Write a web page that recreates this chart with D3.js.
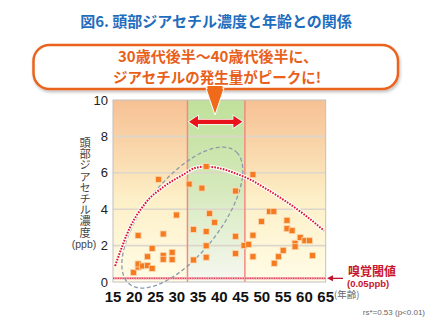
<!DOCTYPE html>
<html><head><meta charset="utf-8">
<script src="https://cdn.jsdelivr.net/npm/d3@7/dist/d3.min.js"></script>
<style>
html,body{margin:0;padding:0;background:#fff;}
svg{display:block;}
</style></head>
<body>
<svg id="chart" width="432" height="324"></svg>
<script>
// ---- Data ----
const ages = [19.8,20.9,20.9,20.9,21.9,23.1,23.1,24.2,24.2,25.7,26.8,26.8,26.8,28.9,28.9,29.9,
  32.9,33.9,33.9,35.9,36.9,36.9,36.9,36.9,37.7,38.9,43.8,43.8,43.8,45.8,46.9,
  47.9,47.9,47.9,49.9,51.8,52.8,52.9,53.9,55.0,55.9,55.9,57.1,57.8,57.8,59.0,60.1,61.2,61.9];
const values = [0.53,0.82,0.99,2.56,0.88,0.90,1.39,0.75,1.85,5.64,1.45,1.25,2.64,1.23,1.63,3.68,
  5.38,2.89,1.21,5.16,6.34,2.77,1.99,1.36,3.77,3.28,5.0,2.51,1.56,2.01,2.07,
  5.9,2.57,1.39,3.33,3.88,3.88,1.03,1.39,1.74,3.39,2.93,2.82,2.13,1.94,2.45,2.27,2.27,1.45];
// trend curve
const trendAges = [15.5,19,22.5,27,31.5,34.5,36.7,40,44,47.5,51,55.5,60,64.6];
const trendValues = [0.88,3.0,4.3,5.25,5.9,6.28,6.34,6.25,5.95,5.6,5.12,4.45,3.7,2.82];
const xTicks = [15,20,25,30,35,40,45,50,55,60,65];
const yTicks = [0,2,4,6,8,10];
const peakBand = [32.5,46];        // age range highlighted
const thresholdValue = 0.2;        // odour threshold line (drawn just above 0)
const arrowValue = 8.8;            // double arrow height
const ellipseCenter = [31.3,3.54]; // age, value

const svg = d3.select("#chart");
const M = {left:113, right:325.7, top:100, bottom:282};
const x = d3.scaleLinear().domain([15,65]).range([M.left,M.right]);
const y = d3.scaleLinear().domain([0,10]).range([M.bottom,M.top]);

const defs = svg.append("defs");
const g1 = defs.append("linearGradient").attr("id","bgGrad").attr("x1",0).attr("y1",0).attr("x2",0).attr("y2",1);
[[0,"#f6c194"],[0.3,"#fad9ae"],[0.55,"#fdf0c8"],[1,"#fffce6"]].forEach(s=>g1.append("stop").attr("offset",s[0]).attr("stop-color",s[1]));
const g2 = defs.append("linearGradient").attr("id","greenGrad").attr("x1",0).attr("y1",0).attr("x2",0).attr("y2",1);
[[0,"#bfe19a"],[0.45,"#d3e8b8"],[1,"#f6f8f1"]].forEach(s=>g2.append("stop").attr("offset",s[0]).attr("stop-color",s[1]));
const sh = defs.append("filter").attr("id","shadow").attr("x","-10%").attr("y","-20%").attr("width","120%").attr("height","150%");
sh.append("feDropShadow").attr("dx",1).attr("dy",2).attr("stdDeviation",1.5).attr("flood-color","#000").attr("flood-opacity",0.25);

// Title
svg.append("text").attr("x",216).attr("y",27).attr("text-anchor","middle")
  .attr("font-family","'Noto Sans CJK JP',sans-serif").attr("font-weight","bold").attr("font-size",15)
  .attr("fill","#1f6dbd").text("図6. 頭部ジアセチル濃度と年齢との関係");

// Plot background
svg.append("rect").attr("x",M.left).attr("y",M.top).attr("width",M.right-M.left).attr("height",M.bottom-M.top)
  .attr("fill","url(#bgGrad)");
svg.append("rect").attr("x",x(peakBand[0])).attr("y",M.top).attr("width",x(peakBand[1])-x(peakBand[0])).attr("height",M.bottom-M.top)
  .attr("fill","url(#greenGrad)");

// grid lines
svg.append("g").selectAll("line").data(yTicks.filter(d=>d>0&&d<10)).join("line")
  .attr("x1",M.left).attr("x2",M.right).attr("y1",d=>y(d)).attr("y2",d=>y(d))
  .attr("stroke","#ddd6cc").attr("stroke-width",1.6);

// band borders
svg.append("g").selectAll("line").data(peakBand).join("line")
  .attr("x1",d=>x(d)).attr("x2",d=>x(d)).attr("y1",M.top).attr("y2",M.bottom)
  .attr("stroke","#f28a80").attr("stroke-width",1.5);

// frame
svg.append("rect").attr("x",M.left).attr("y",M.top).attr("width",M.right-M.left).attr("height",M.bottom-M.top)
  .attr("fill","none").attr("stroke","#c4c0bc").attr("stroke-width",1);

// threshold line
svg.append("line").attr("x1",M.left).attr("x2",M.right).attr("y1",y(thresholdValue)).attr("y2",y(thresholdValue))
  .attr("stroke","#f4a8b0").attr("stroke-width",2.5);
svg.append("line").attr("x1",M.left).attr("x2",M.right).attr("y1",y(thresholdValue)).attr("y2",y(thresholdValue))
  .attr("stroke","#e0405a").attr("stroke-width",1.2).attr("stroke-dasharray","1.2,1.2");

// ellipse (gray dashed)
{
  const cx = x(ellipseCenter[0]), cy = y(ellipseCenter[1]);
  const a = 85, b = 37.5, ang = -51.5*Math.PI/180;
  const pts = d3.range(0,360,3).map(t=>{
    const th=t*Math.PI/180;
    const px = a*Math.cos(th), py = b*Math.sin(th);
    return [cx + px*Math.cos(ang) - py*Math.sin(ang), cy + px*Math.sin(ang) + py*Math.cos(ang)];
  });
  svg.append("path").attr("d",d3.line().curve(d3.curveCardinalClosed)(pts))
    .attr("fill","none").attr("stroke","#8a9aaa").attr("stroke-width",1.3).attr("stroke-dasharray","4,2.5");
}

// trend line
const trend = trendAges.map((a,i)=>[x(a),y(trendValues[i])]);
const tl = d3.line().curve(d3.curveMonotoneX);
svg.append("path").attr("d",tl(trend)).attr("fill","none").attr("stroke","#fff").attr("stroke-width",4).attr("stroke-opacity",0.9);
svg.append("path").attr("d",tl(trend)).attr("fill","none").attr("stroke","#e0102a").attr("stroke-width",2).attr("stroke-dasharray","1.6,1.3");

// points
const s = 6;
svg.append("g").selectAll("rect").data(ages.map((a,i)=>[a,values[i]])).join("rect")
  .attr("x",d=>x(d[0])-s/2).attr("y",d=>y(d[1])-s/2).attr("width",s).attr("height",s)
  .attr("fill","#f47b20").attr("stroke","#fbd7b0").attr("stroke-width",0.8);

// double arrow
{
  const x1 = x(peakBand[0])+1.5, x2 = x(peakBand[1])-2.5, yy = y(arrowValue);
  const hl = 9, hh = 6, sw = 2.2;
  const p = [[x1,yy],[x1+hl,yy-hh],[x1+hl,yy-sw],[x2-hl,yy-sw],[x2-hl,yy-hh],[x2,yy],[x2-hl,yy+hh],[x2-hl,yy+sw],[x1+hl,yy+sw],[x1+hl,yy+hh]];
  svg.append("path").attr("d","M"+p.map(q=>q.join(",")).join("L")+"Z")
    .attr("fill","#e8141c").attr("stroke","#fff").attr("stroke-width",1.5).attr("paint-order","stroke");
}

// callout
svg.append("rect").attr("x",33.5).attr("y",45).attr("width",364.5).attr("height",44).attr("rx",16).attr("ry",16)
  .attr("fill","#fff").attr("stroke","#ea641e").attr("stroke-width",2.5).attr("filter","url(#shadow)");
svg.append("path").attr("d","M206,88.5L224,88.5L215,115Z").attr("fill","#f06a1a").attr("stroke","#fff").attr("stroke-width",1);
svg.append("rect").attr("x",207.5).attr("y",86).attr("width",15).attr("height",3).attr("fill","#f06a1a");
const ct = svg.append("g").attr("font-family","'Noto Sans CJK JP',sans-serif").attr("font-weight","bold")
  .attr("font-size",15).attr("fill","#e8601a").attr("text-anchor","middle");
ct.append("text").attr("x",218).attr("y",62).text("30歳代後半～40歳代後半に、");
ct.append("text").attr("x",217).attr("y",82.5).attr("font-size",14.5).text("ジアセチルの発生量がピークに!");

// y ticks
svg.append("g").selectAll("text").data(yTicks).join("text")
  .attr("x",108).attr("y",d=>y(d)+4.5).attr("text-anchor","end")
  .attr("font-family","'Liberation Sans',Arial,sans-serif").attr("font-size",13).attr("fill","#222").text(d=>d);

// x ticks
svg.append("g").selectAll("text").data(xTicks).join("text")
  .attr("x",d=>x(d)).attr("y",301.5).attr("text-anchor","middle")
  .attr("font-family","'Liberation Sans',Arial,sans-serif").attr("font-weight","bold").attr("font-size",15).attr("fill","#111").text(d=>d);
svg.append("text").attr("x",334).attr("y",298).attr("font-family","'Noto Sans CJK JP',sans-serif")
  .attr("font-size",9.5).attr("fill","#666").text("(年齢)");

// y title vertical (single text, vertical writing mode)
svg.append("text").attr("x",85).attr("y",187.5).attr("text-anchor","middle")
  .style("writing-mode","vertical-rl")
  .attr("font-family","'Noto Sans CJK JP',sans-serif").attr("font-size",11.2).attr("fill","#444")
  .text("頭部ジアセチル濃度");
svg.append("text").attr("x",84).attr("y",248).attr("text-anchor","middle")
  .attr("font-family","'Liberation Sans',Arial,sans-serif").attr("font-size",10.5).attr("fill","#444").text("(ppb)");

// threshold annotation
{
  const yy = y(thresholdValue);
  svg.append("line").attr("x1",343).attr("x2",331).attr("y1",yy).attr("y2",yy).attr("stroke","#c0142a").attr("stroke-width",1.3);
  svg.append("path").attr("d",`M327,${yy}L333,${yy-3}L333,${yy+3}Z`).attr("fill","#c0142a");
  svg.append("text").attr("x",348).attr("y",276).attr("font-family","'Noto Sans CJK JP',sans-serif")
    .attr("font-weight","bold").attr("font-size",12).attr("fill","#c8142e").text("嗅覚閾値");
  svg.append("text").attr("x",347).attr("y",287).attr("font-family","'Liberation Sans',Arial,sans-serif")
    .attr("font-weight","bold").attr("font-size",9.5).attr("fill","#c8142e").text("(0.05ppb)");
}

// footnote
svg.append("text").attr("x",425).attr("y",315).attr("text-anchor","end").attr("font-family","'Liberation Sans',Arial,sans-serif")
  .attr("font-size",8).attr("fill","#666").text("rs*=0.53 (p<0.01)");
</script>
</body></html>
